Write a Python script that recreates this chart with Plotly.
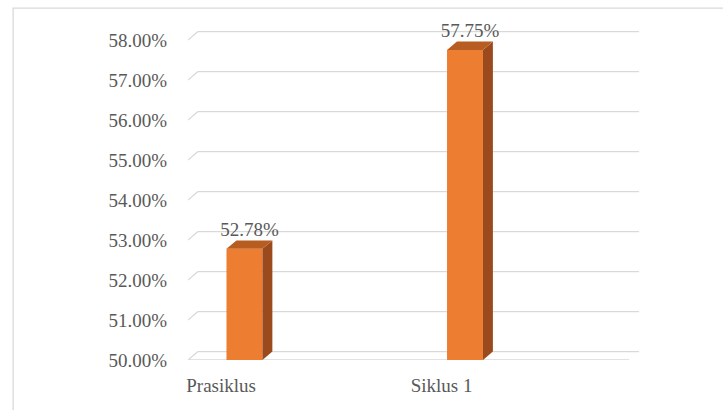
import plotly.graph_objects as go

categories = ["Prasiklus", "Siklus 1"]
values = [52.78, 57.75]
ytick_vals = [50, 51, 52, 53, 54, 55, 56, 57, 58]
ytick_text = ["%.2f%%" % v for v in ytick_vals]
label_text = ["%.2f%%" % v for v in values]

# geometry (data units)
DX = 0.045      # depth shift in x
DY = 0.21       # depth shift in y
BAR_OFF = 0.256  # front face centre offset inside category
BAR_W = 0.163
LAB_OFF = 0.15
X_MAX = 2.054
Y_MIN, Y_MAX = 50, 58.5

FRONT = "#ED7D31"
SIDE = "#9A4A1C"
TOP = "#B85D22"
GRID = "#D9D9D9"
TXT = "#595959"
FONT = "Times New Roman"

fig = go.Figure()

shapes = []
for t in ytick_vals:
    shapes.append(dict(type="line", xref="x", yref="y", x0=0, y0=t, x1=DX, y1=t + DY,
                       line=dict(color=GRID, width=1.3), layer="below"))
    shapes.append(dict(type="line", xref="x", yref="y", x0=DX, y0=t + DY, x1=2 + DX, y1=t + DY,
                       line=dict(color=GRID, width=1.3), layer="below"))
shapes.append(dict(type="line", xref="x", yref="y", x0=0, y0=Y_MIN, x1=2, y1=Y_MIN,
                   line=dict(color=GRID, width=1.3), layer="below"))
shapes.append(dict(type="rect", xref="paper", yref="paper", x0=-0.386, x1=1.4, y0=-0.3, y1=1.035,
                   line=dict(color=GRID, width=1.3), layer="below"))

centers = [i + BAR_OFF for i in range(len(categories))]

fig.add_trace(go.Bar(x=centers, y=values, width=BAR_W, marker=dict(color=FRONT, line=dict(width=0)),
                     showlegend=False))

for c, v in zip(centers, values):
    xl, xr = c - BAR_W / 2, c + BAR_W / 2
    fig.add_trace(go.Scatter(x=[xr, xr + DX, xr + DX, xr, xr], y=[Y_MIN, Y_MIN + DY, v + DY, v, Y_MIN],
                             fill="toself", fillcolor=SIDE, mode="lines", line=dict(width=0, color=SIDE),
                             hoverinfo="skip", showlegend=False))
    fig.add_trace(go.Scatter(x=[xl, xl + DX, xr + DX, xr, xl], y=[v, v + DY, v + DY, v, v],
                             fill="toself", fillcolor=TOP, mode="lines", line=dict(width=0, color=TOP),
                             hoverinfo="skip", showlegend=False))

fig.add_trace(go.Scatter(x=[c + DX / 2 for c in centers], y=[v + DY for v in values], mode="text",
                         text=label_text, textposition="top center",
                         textfont=dict(family=FONT, size=19, color=TXT),
                         hoverinfo="skip", showlegend=False, cliponaxis=False))

fig.update_layout(
    width=723, height=410,
    margin=dict(l=188, r=82, t=20, b=50),
    paper_bgcolor="white", plot_bgcolor="white",
    font=dict(family=FONT, size=19, color=TXT),
    xaxis=dict(range=[0, X_MAX], showgrid=False, zeroline=False, showline=False,
               tickmode="array", tickvals=[i + LAB_OFF for i in range(len(categories))],
               ticktext=categories, ticks="", ticklabelstandoff=12,
               tickfont=dict(family=FONT, size=19, color=TXT), fixedrange=True),
    yaxis=dict(range=[Y_MIN, Y_MAX], showgrid=False, zeroline=False, showline=False,
               tickmode="array", tickvals=ytick_vals, ticktext=ytick_text, ticks="",
               ticklabelstandoff=20, tickfont=dict(family=FONT, size=19, color=TXT), fixedrange=True),
    shapes=shapes,
)

fig.write_html("out.html")
